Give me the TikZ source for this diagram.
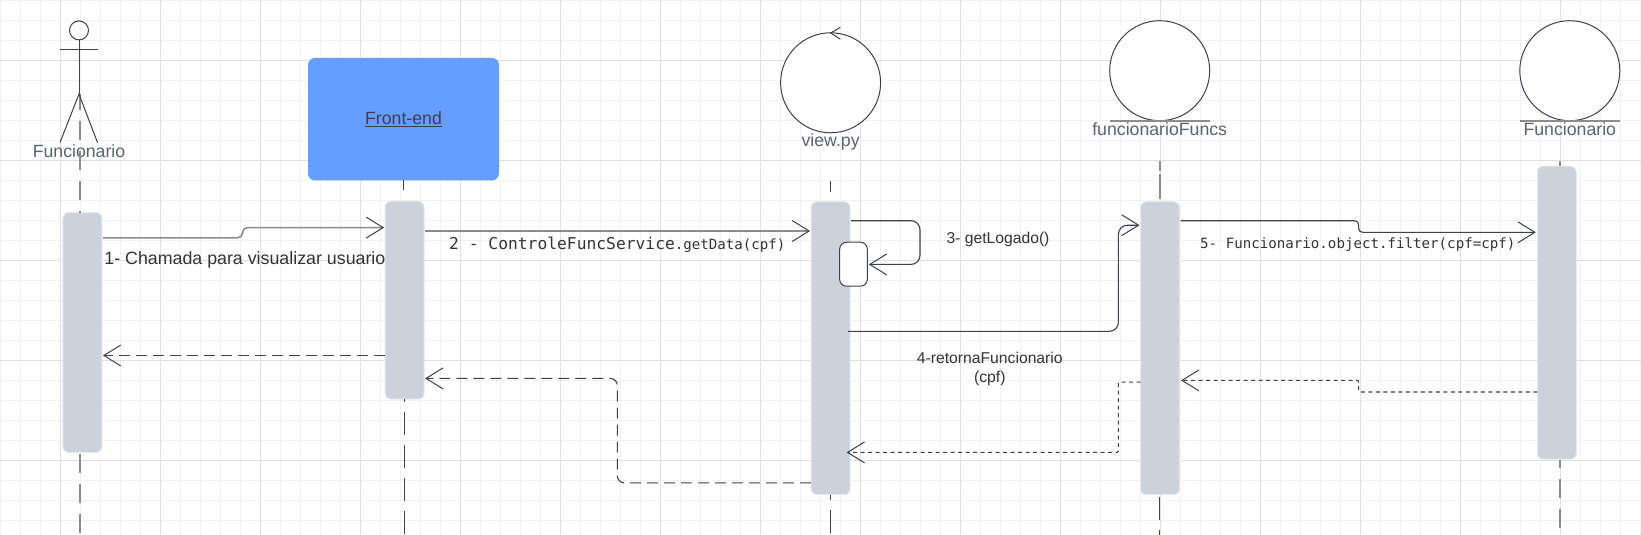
\documentclass[tikz,border=0pt]{standalone}
\usepackage{fontspec}
\setmainfont{Liberation Sans}
\newfontfamily\monof{DejaVu Sans Mono}
\usetikzlibrary{arrows.meta}
\definecolor{gmin}{HTML}{F2F2F2}
\definecolor{gmaj}{HTML}{E0E0E0}
\definecolor{actf}{HTML}{CBD2DB}
\definecolor{actb}{HTML}{E6E9ED}
\definecolor{blueb}{HTML}{659EFF}
\definecolor{dk}{HTML}{3A414F}
\definecolor{lg}{HTML}{8C8C8C}
\definecolor{lab}{HTML}{5C6370}
\definecolor{txt}{HTML}{333333}
\tikzset{
  x=1pt,y=-1pt,
  act/.style={rectangle,rounded corners=6pt,fill=actf,draw=actb,line width=1pt,minimum width=39pt,inner sep=0pt,outer sep=0pt},
  ent/.style={circle,draw=dk,fill=white,line width=1pt,minimum size=100pt,inner sep=0pt,outer sep=0pt},
  lifeg/.style={draw=lg,line width=1.5pt,dash pattern=on 19pt off 11pt},
  lifed/.style={draw=dk,line width=1.2pt,dash pattern=on 23pt off 10pt},
  lbl/.style={inner sep=0pt,text=lab,font=\fontsize{17.7}{20}\selectfont},
  msg/.style={inner sep=0pt,text=txt,font=\fontsize{15.7}{20}\selectfont,align=center},
  mono/.style={inner sep=0pt,text=txt,anchor=west},
  tip/.style={-{Straight Barb[length=17pt,width=21pt,line width=1pt,color=dk]}},
  solidg/.style={draw=lg,line width=1.6pt,tip,rounded corners=5pt},
  solidd/.style={draw=dk,line width=1.1pt,tip,rounded corners=9pt},
  retlong/.style={draw=dk,line width=1.1pt,tip,dash pattern=on 11pt off 6pt,rounded corners=7pt},
  retshort/.style={draw=dk,line width=1.1pt,tip,dash pattern=on 4pt off 3.5pt,rounded corners=1pt},
}
\begin{document}
\begin{tikzpicture}
\useasboundingbox (0,0) rectangle (1641,535);
\fill[white] (0,0) rectangle (1641,535);
% grid
\foreach \k in {0,...,82}{\draw[gmin,line width=1pt] ({0.4+20*\k},0) -- ({0.4+20*\k},535);}
\foreach \k in {0,...,26}{\draw[gmin,line width=1pt] (0,{0.4+20*\k}) -- (1641,{0.4+20*\k});}
\foreach \k in {0,...,15}{\draw[gmaj,line width=1pt] ({60.4+100*\k},0) -- ({60.4+100*\k},535);}
\foreach \k in {0,...,4}{\draw[gmaj,line width=1pt] (0,{60.4+100*\k}) -- (1641,{60.4+100*\k});}

% participants
\node[circle,draw=dk,line width=1pt,minimum size=19pt,inner sep=0pt,outer sep=0pt] (head) at (79,30.4) {};
\coordinate (hip) at (79,94);
\coordinate (armL) at (60,49.5);
\coordinate (armR) at (97.5,49.5);
\coordinate (footL) at (60,142.6);
\coordinate (footR) at (97.5,142.6);
\node[lbl] (actorlabel) at (79,151.5) {Funcionario};

\node[rectangle,rounded corners=7pt,fill=blueb,minimum width=191pt,minimum height=122.5pt,inner sep=0pt,outer sep=0pt,
  text=dk,font=\fontsize{17.7}{20}\selectfont] (front) at (403.5,119.2) {\underline{Front-end}};

\node[ent] (view) at (830.6,82.8) {};
\coordinate (viewtip) at (830.6,33);
\coordinate (viewb1) at (840.4,27.3);
\coordinate (viewb2) at (840.4,39.2);
\node[lbl] (viewlabel) at (830.6,141.6) {view.py};

\node[ent] (ff) at (1159.7,70.7) {};
\coordinate (ffu1) at (1110,120.8);
\coordinate (ffu2) at (1209.6,120.8);
\node[lbl] (fflabel) at (1159.7,129.6) {funcionarioFuncs};

\node[ent] (fu) at (1569.8,70.7) {};
\coordinate (fuu1) at (1520,120.8);
\coordinate (fuu2) at (1619.5,120.8);
\node[lbl] (fulabel) at (1569.8,129.6) {Funcionario};

% activations positioned by centre
\node[act,minimum height=240pt] (a1) at (82.4,332.5) {};
\node[act,minimum height=198pt] (a2) at (404.6,300.2) {};
\node[act,minimum height=293pt] (a3) at (830.6,348.2) {};
\node[act,minimum height=293pt] (a4) at (1160,348.2) {};
\node[act,minimum height=293pt] (a5) at (1556.8,312.7) {};

% lifelines
\draw[lifeg,dash phase=3pt] (80,94) -- (a1.north -| 80,0);
\draw[lifeg,dash phase=0pt] (a1.south -| 80,0) ++(0,1) -- (80,535);
\draw[dk,line width=1.1pt] (front.south) -- ++(0,10);
\draw[lifed,dash phase=20pt] (a2.south -| 404.4,0) -- (404.4,535);
\draw[dk,line width=1.1pt,dash pattern=on 10.5pt off 100pt] (view.south) ++(0,48.5) -- (a3.north);
\draw[lifed,dash phase=18pt] (a3.south) -- (830.6,535);
\draw[lifeg,dash pattern=on 10pt off 3.4pt on 25pt off 100pt] (1160,161) -- (a4.north);
\draw[lifed,dash phase=0pt] (1159.4,497) -- (1159.4,535);
\draw[lifeg] (1560,161) -- (1560,166);
\draw[lifeg,dash phase=11pt] (1560,460) -- (1560,535);

% actor
\draw[dk,line width=1pt] (head.south) -- (hip);
\draw[dk,line width=1pt] (armL) -- (armR);
\draw[dk,line width=1pt] (footL) -- (hip) -- (footR);

% view.py arrow, entity underlines
\draw[dk,line width=1pt] (viewb1) -- (viewtip) -- (viewb2);
\draw[lg,line width=1.5pt] (ffu1) -- (ffu2);
\draw[lg,line width=1.5pt] (fuu1) -- (fuu2);

% inner box
\node[rectangle,rounded corners=7pt,fill=white,draw=dk,line width=1pt,minimum width=27.7pt,minimum height=44pt,inner sep=0pt] (self) at (853.5,264.2) {};

% connectors
\draw[solidg] ([xshift=1pt]a1.east |- 0,237.8) -- (242.5,237.8) -- (242.5,227.6) -- ([xshift=-1pt]a2.west |- 0,227.6);
\draw[solidg] ([xshift=1pt]a2.east |- 0,231) -- ([xshift=-1pt]a3.west |- 0,231);
\draw[solidd] ([xshift=1pt]a3.east |- 0,220.7) -- (920,220.7) -- (920,264.4) -- ([xshift=1pt]self.east |- 0,264.4);
\draw[solidd] ([xshift=-2pt]a3.east |- 0,331.3) -- (1118.4,331.3) -- (1118.4,225.2) -- ([xshift=-1pt]a4.west |- 0,225.2);
\draw[draw=dk,line width=1.1pt,tip,rounded corners=4pt] ([xshift=1pt]a4.east |- 0,220.7) -- (1358.6,220.7) -- (1358.6,232.3) -- ([xshift=-1.5pt]a5.west |- 0,232.3);

\draw[retlong] (a2.west |- 0,355.5) -- ([xshift=1pt]a1.east |- 0,355.5);
\draw[retlong] (a3.west |- 0,482.8) -- (617.3,482.8) -- (617.3,378.4) -- ([xshift=1pt]a2.east |- 0,378.4);
\draw[retshort] (a5.west |- 0,392) -- (1358.6,392) -- (1358.6,380.4) -- ([xshift=1.5pt]a4.east |- 0,380.4);
\draw[retshort] (a4.west |- 0,382.1) -- (1118.4,382.1) -- (1118.4,452.4) -- ([xshift=-3.5pt]a3.east |- 0,452.4);

% labels
\node[inner sep=0pt,text=txt,anchor=west,font=\fontsize{17.8}{20}\selectfont] (m1) at (104.2,260.3) {1- Chamada para visualizar usuario};
\node[mono] (m2) at (449,245) {\monof\fontsize{16.3}{20}\selectfont 2 - ControleFuncService\fontsize{14.1}{20}\selectfont .getData(cpf)};
\node[msg] (m3) at (998,239.5) {3- getLogado()};
\node[msg] (m4a) at (989.8,358.2) {4-retornaFuncionario};
\node[msg] (m4b) at (989.8,378) {(cpf)};
\node[mono] (m5) at (1200,245) {\monof\fontsize{14.15}{20}\selectfont 5- Funcionario.object.filter(cpf=cpf)};
\end{tikzpicture}
\end{document}
